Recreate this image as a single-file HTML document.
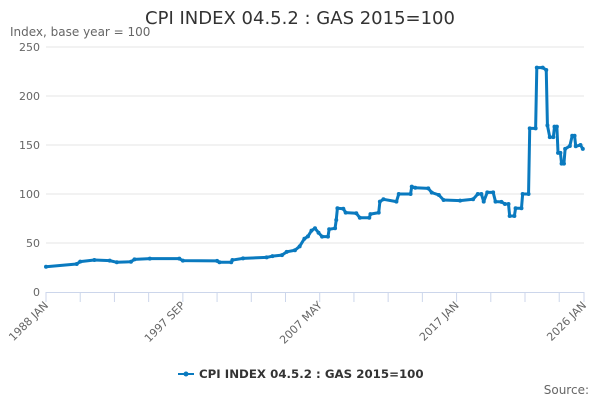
<!DOCTYPE html>
<html><head><meta charset="utf-8"><style>
body{margin:0;width:600px;height:400px;background:#fff;font-family:"DejaVu Sans","Liberation Sans",sans-serif;overflow:hidden}
</style></head><body>
<svg width="600" height="400" xmlns="http://www.w3.org/2000/svg" font-family="DejaVu Sans, Liberation Sans, sans-serif">
<text x="300" y="24" text-anchor="middle" font-size="18" fill="#333">CPI INDEX 04.5.2 : GAS 2015=100</text>
<text x="10" y="36" font-size="12" fill="#666">Index, base year = 100</text>
<g id="grid"></g>
<g id="yt"></g>
<g id="xt"></g>
<g id="series"></g>
<g>
<line x1="178" y1="374" x2="194" y2="374" stroke="#0a7abf" stroke-width="2"/>
<circle cx="186" cy="374" r="2.5" fill="#0a7abf"/>
<text x="199" y="378" font-size="11.8" font-weight="bold" fill="#333">CPI INDEX 04.5.2 : GAS 2015=100</text>
</g>
<text x="589" y="394" text-anchor="end" font-size="12" fill="#666">Source:</text>
</svg>
<script>
const months=[0,26,29,41,54,60,72,75,88,113,116,145,147,157,158,167,187,192,200,204,211,215,219,222,225,228,231,234,239,240,245,246,247,252,254,263,266,274,275,282,283,286,297,299,309,310,313,324,327,333,337,351,362,366,369,371,374,379,381,386,389,392,393,397,398,403,404,409,410,415,416,421,424,425,427,430,431,433,434,436,437,439,440,444,446,448,449,453,455];
const values=[25.8,28.6,31,32.6,32,30.3,30.9,33.3,34,34,32,31.7,30.3,30.3,32.6,34.3,35.3,36.6,37.6,41,42.6,46.6,54.4,56.7,62.6,65,60.5,56.5,56.5,64,65,73.5,85.4,85,81,80.3,75.8,75.8,79.5,81,92.2,94.6,92.2,100,100,107.5,106.4,105.8,101.4,99,93.9,93.2,94.6,100,100,92.2,101.7,101.7,92.2,92,89.8,89.8,77.6,77.6,85.4,85.4,100,100,167,167,229,229,226.5,170,158,158,168.7,168.7,142,142,131,131,146,149,159.5,159.5,148.7,150,146];
const yTicks=[0,50,100,150,200,250];
const xLabels=[["1988 JAN",0],["1997 SEP",116],["2007 MAY",232],["2017 JAN",348],["2026 JAN",456]];
const NS="http://www.w3.org/2000/svg";
const X0=46,X1=584,Y0=292,Y1=47;
const xs=m=>X0+m*(X1-X0)/456, ys=v=>Y0-v*(Y0-Y1)/250;
function mk(t,a,p){const e=document.createElementNS(NS,t);for(const k in a)e.setAttribute(k,a[k]);p.appendChild(e);return e;}
const g=document.getElementById('grid'),yt=document.getElementById('yt'),xt=document.getElementById('xt'),s=document.getElementById('series');
yTicks.forEach(v=>{
 if(v>0){const l=mk('line',{x1:X0,x2:X1,y1:ys(v),y2:ys(v),stroke:'#e6e6e6'},g);
 
 }
 const t=mk('text',{x:40,y:ys(v)+4,'text-anchor':'end','font-size':11,fill:'#666'},yt);t.textContent=v;
 
 
});
mk('line',{x1:X0,x2:X1,y1:Y0+0.5,y2:Y0+0.5,stroke:'#ccd6eb'},xt);
for(let m=0;m<=456;m+=29){mk('line',{x1:xs(m),x2:xs(m),y1:Y0,y2:Y0+10,stroke:'#ccd6eb'},xt);}
mk('line',{x1:xs(456),x2:xs(456),y1:Y0,y2:Y0+10,stroke:'#ccd6eb'},xt);
xLabels.forEach(([lab,m])=>{const x=xs(m)+3,y=Y0+14;
 const t=mk('text',{x:x,y:y,'text-anchor':'end','font-size':11,fill:'#666',transform:`rotate(-45 ${x} ${y})`},xt);t.textContent=lab;
 
 });
const pts=months.map((m,i)=>xs(m)+','+ys(values[i])).join(' ');
const pl=mk('polyline',{points:pts,fill:'none',stroke:'#0a7abf','stroke-width':3,'stroke-linejoin':'round'},s);


months.forEach((m,i)=>{const c=mk('circle',{cx:xs(m),cy:ys(values[i]),r:2,fill:'#0a7abf'},s);
 
 });
</script>
</body></html>
